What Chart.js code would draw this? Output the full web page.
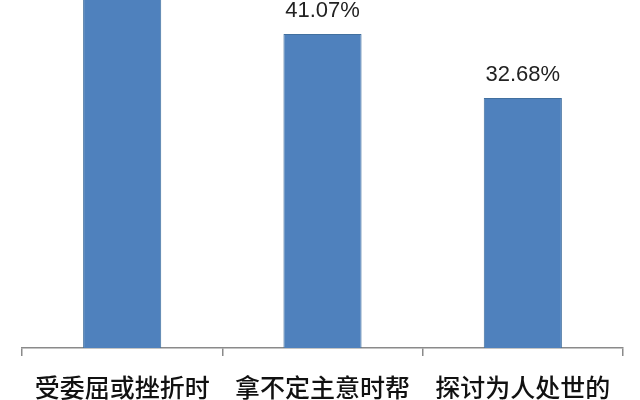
<!DOCTYPE html>
<html>
<head>
<meta charset="utf-8">
<script src="https://cdn.jsdelivr.net/npm/chart.js@4/dist/chart.umd.min.js"></script>
<style>
html,body{margin:0;padding:0;background:#fff;}
#wrap{width:640px;height:400px;position:relative;}
</style>
</head>
<body>
<div id="wrap"><canvas id="c"></canvas></div>
<script>
const categories = ["受委屈或挫折时", "拿不定主意时帮", "探讨为人处世的"];
const values = [50.0, 41.07, 32.68];
const valueLabels = ["", "41.07%", "32.68%"];

const dataLabelPlugin = {
  id: 'dataLabels',
  afterDatasetsDraw(chart) {
    const ctx = chart.ctx;
    const meta = chart.getDatasetMeta(0);
    ctx.save();
    ctx.font = '22px "Liberation Sans", Arial, sans-serif';
    ctx.fillStyle = '#222';
    ctx.textAlign = 'center';
    ctx.textBaseline = 'alphabetic';
    meta.data.forEach((bar, i) => {
      const t = valueLabels[i] || (values[i].toFixed(2) + '%');
      ctx.fillText(t, bar.x, bar.y - 17);
    });
    ctx.restore();
  }
};

new Chart(document.getElementById('c'), {
  type: 'bar',
  data: {
    labels: categories,
    datasets: [{
      data: values,
      backgroundColor: '#4F81BD',
      borderColor: '#42709F',
      borderWidth: 1,
      barPercentage: 0.39,
      categoryPercentage: 1.0
    }]
  },
  options: {
    responsive: true,
    maintainAspectRatio: false,
    animation: false,
    layout: { padding: { left: 22, right: 17, top: 0, bottom: -18 } },
    plugins: { legend: { display: false }, tooltip: { enabled: false } },
    scales: {
      x: {
        grid: {
          offset: true,
          drawOnChartArea: false,
          drawTicks: true,
          tickLength: 8,
          color: '#8a8a8a',
          lineWidth: 1.5
        },
        border: { display: true, color: '#8a8a8a', width: 1.5 },
        ticks: {
          color: '#111',
          padding: 16,
          maxRotation: 0,
          autoSkip: false,
          font: { family: '"Noto Sans CJK SC", sans-serif', size: 25, weight: '500' }
        }
      },
      y: {
        display: false,
        min: 0,
        max: 45.5
      }
    }
  },
  plugins: [dataLabelPlugin]
});
</script>
</body>
</html>
